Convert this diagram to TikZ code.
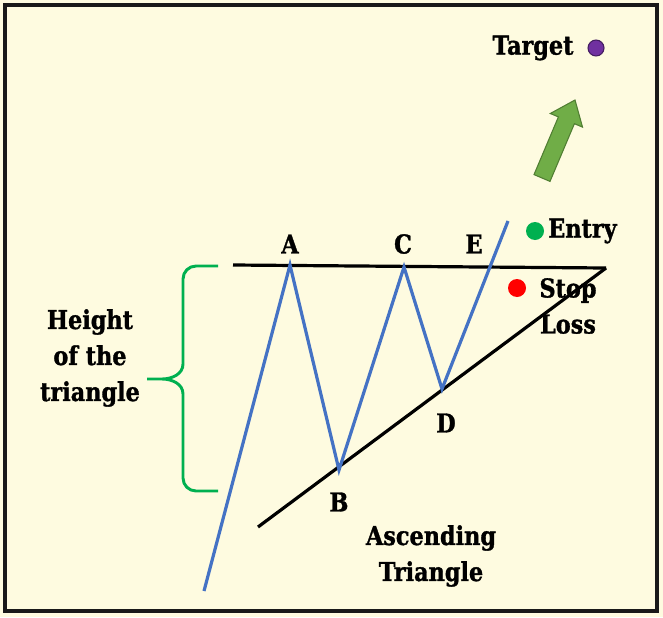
\documentclass[tikz,border=0pt]{standalone}
\usepackage{fontspec}
\setmainfont{DejaVu Serif}[BoldFeatures={FakeStretch=0.86, FakeBold=1.2}]

\definecolor{paper}{HTML}{FEFBE0}
\definecolor{pathblue}{HTML}{4472C4}
\definecolor{bracegreen}{HTML}{00B050}
\definecolor{arrowgreen}{HTML}{70AD47}
\definecolor{arrowedge}{HTML}{507E32}
\definecolor{targetpurple}{HTML}{7030A0}

\tikzset{
  trendline/.style={draw=black, line width=2.4pt},
  pricepath/.style={draw=pathblue, line width=2.4pt, line join=miter},
  bracepath/.style={draw=bracegreen, line width=2.2pt},
  lbl/.style={font=\bfseries\fontsize{19.5}{27}\selectfont, align=center, inner sep=0pt},
  marker/.style={circle, inner sep=0pt, minimum size=13.5pt}
}

\begin{document}
\begin{tikzpicture}[x=0.75pt, y=-0.75pt]
\useasboundingbox (0,0) rectangle (663,617);
\fill[paper] (0,0) rectangle (663,617);
\draw[line width=2.4pt, draw=black!90] (5,5) rectangle (657,611);

% chart points
\coordinate (start) at (204,591);
\coordinate (A) at (290,265);
\coordinate (B) at (339,470);
\coordinate (C) at (404,267);
\coordinate (D) at (442,389);
\coordinate (breakout) at (508,221);
\coordinate (resL) at (233,265);
\coordinate (apex) at (606,268);
\coordinate (supL) at (258,527);

% resistance and support
\draw[trendline] (resL) -- (apex);
\draw[trendline] (supL) -- (apex);

% price path
\draw[pricepath] (start) -- (A) -- (B) -- (C) -- (D) -- (breakout);

% point labels
\node[lbl] (labA) at (290,244) {A};
\node[lbl] (labB) at (339,502) {B};
\node[lbl] (labC) at (403,244) {C};
\node[lbl] (labD) at (446,423) {D};
\node[lbl] (labE) at (474,244) {E};

% height brace
\draw[bracepath] (218,266) -- (196,266) to[out=180,in=90] (183,279) -- (183,364)
  to[out=-90,in=0] (162,379) -- (147,379) -- (162,379)
  to[out=0,in=90] (183,394) -- (183,478) to[out=-90,in=180] (196,491) -- (218,491);
\node[lbl] (height) at (90,358) {Height\\of the\\triangle};

% entry, stop loss, target
\node[marker, fill=bracegreen] (entrydot) at (535,231) {};
\node[lbl, anchor=west] (entry) at (548,231) {Entry};
\node[marker, fill=red] (stopdot) at (517,288) {};
\node[lbl] (stop) at (568,306) {Stop\\Loss};
\node[lbl] (target) at (533,48) {Target};
\node[marker, fill=targetpurple, draw=targetpurple!60!black, line width=0.8pt, minimum size=12pt] (targetdot) at (596,48) {};

% upward arrow
\filldraw[fill=arrowgreen, draw=arrowedge, line width=0.8pt, line join=miter]
  (534.0,174.6) -- (558.4,116.9) -- (550.3,113.5) -- (575,100)
  -- (582.5,127.1) -- (574.4,123.7) -- (550.0,181.4) -- cycle;

\node[lbl] (title) at (431,556) {Ascending\\Triangle};
\end{tikzpicture}
\end{document}
